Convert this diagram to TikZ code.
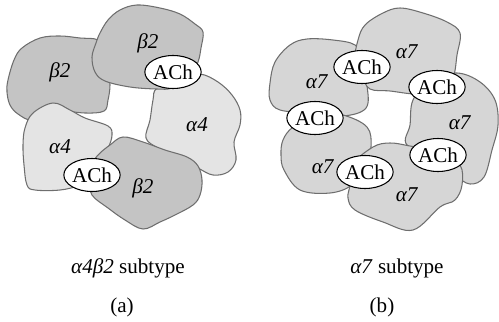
\documentclass[tikz,border=0pt]{standalone}
\usepackage{tikz}
\usetikzlibrary{shapes.geometric}
\usepackage{xcolor}
\usepackage{fontspec}
\setmainfont{Liberation Serif}
\definecolor{subdark}{HTML}{C4C4C4}
\definecolor{sublight}{HTML}{E4E4E4}
\definecolor{subseven}{HTML}{D6D6D6}
\definecolor{rim}{HTML}{6E6E6E}

\begin{document}
\begin{tikzpicture}[
    x=0.02cm, y=-0.02cm,
    every node/.style={font=\fontsize{12}{14}\selectfont},
    sub/.style={draw=rim, line width=0.6pt, line join=round},
    ach/.style={ellipse, draw, semithick, fill=white, inner sep=0pt,
                minimum width=0.94cm, minimum height=0.66cm}
]
    \useasboundingbox (0,0) rectangle (499,321);

    % (a) alpha4beta2 pentamer
    \filldraw[sub, fill=subdark] plot[smooth cycle, tension=0.6] coordinates {
        (8,80) (14,60) (22,48) (40,38) (60,36) (80,38) (98,40) (104,52)
        (108,70) (110,85) (108,100) (104,111) (85,113) (60,110) (45,108)
        (32,120) (18,114) (10,105) (7,92)};
    \filldraw[sub, fill=sublight] plot[smooth cycle, tension=0.6] coordinates {
        (157,88) (180,78) (200,74) (218,82) (232,95) (240,110) (240,125)
        (234,142) (236,160) (228,172) (213,175) (198,168) (180,158)
        (158,148) (146,138) (150,120) (153,100)};
    \filldraw[sub, fill=subdark] plot[smooth cycle, tension=0.6] coordinates {
        (100,33) (108,20) (120,10) (137,5) (160,8) (180,14) (195,24)
        (203,32) (201,48) (198,62) (190,78) (172,88) (157,89) (130,87)
        (105,81) (95,72) (92,57) (96,43)};
    \filldraw[sub, fill=sublight] plot[smooth cycle, tension=0.6] coordinates {
        (25,128) (33,113) (53,103) (70,110) (85,118) (108,126) (112,135)
        (108,148) (100,158) (95,175) (80,185) (60,190) (35,190) (27,185)
        (24,165) (23,145)};
    \filldraw[sub, fill=subdark] plot[smooth cycle, tension=0.6] coordinates {
        (98,155) (110,145) (123,137) (143,142) (165,150) (187,157)
        (198,166) (202,180) (200,195) (193,205) (175,215) (160,222)
        (143,229) (125,220) (108,208) (92,195) (90,180) (92,165)};

    \node (b2l) at (60,72)   {\textit{β2}};
    \node (b2t) at (148,43)  {\textit{β2}};
    \node (a4r) at (197,125) {\textit{α4}};
    \node (a4l) at (60,147)  {\textit{α4}};
    \node (b2b) at (143,188) {\textit{β2}};
    \node[ach] (achA) at (173,72) {ACh};
    \node[ach] (achB) at (92,175) {ACh};

    % (b) alpha7 homopentamer
    \filldraw[sub, fill=subseven] plot[smooth cycle, tension=0.6] coordinates {
        (270,83) (275,62) (290,45) (307,39) (333,40) (355,45) (362,60)
        (367,85) (366,108) (343,116) (310,113) (280,110) (270,100)};
    \filldraw[sub, fill=subseven] plot[smooth cycle, tension=0.6] coordinates {
        (430,80) (457,73) (480,82) (495,100) (498,125) (492,150)
        (484,177) (470,184) (455,175) (440,160) (407,145) (410,125)
        (413,100)};
    \filldraw[sub, fill=subseven] plot[smooth cycle, tension=0.6] coordinates {
        (355,60) (358,40) (365,25) (383,13) (400,8) (423,13) (447,22)
        (460,33) (457,55) (453,77) (440,90) (417,94) (390,91) (370,89)
        (362,76)};
    \filldraw[sub, fill=subseven] plot[smooth cycle, tension=0.6] coordinates {
        (283,140) (293,127) (317,113) (343,115) (367,127) (371,147)
        (365,167) (352,185) (330,193) (300,190) (284,170) (281,155)};
    \filldraw[sub, fill=subseven] plot[smooth cycle, tension=0.6] coordinates {
        (350,185) (352,165) (373,147) (390,143) (410,146) (440,152)
        (460,165) (462,185) (455,200) (440,207) (413,230) (383,222)
        (355,210) (348,198)};

    \node (a7t)  at (407,52)  {\textit{α7}};
    \node (a7l)  at (317,82)  {\textit{α7}};
    \node (a7r)  at (460,123) {\textit{α7}};
    \node (a7bl) at (323,167) {\textit{α7}};
    \node (a7b)  at (407,195) {\textit{α7}};
    \node[ach] (achC) at (362,67)  {ACh};
    \node[ach] (achD) at (437,87)  {ACh};
    \node[ach] (achE) at (315,118) {ACh};
    \node[ach] (achF) at (365,172) {ACh};
    \node[ach] (achG) at (438,155) {ACh};

    % captions
    \node (capa) at (128,268) {\textit{α4β2} subtype};
    \node (taga) at (122,307) {(a)};
    \node (capb) at (397,268) {\textit{α7} subtype};
    \node (tagb) at (382,307) {(b)};
\end{tikzpicture}
\end{document}
